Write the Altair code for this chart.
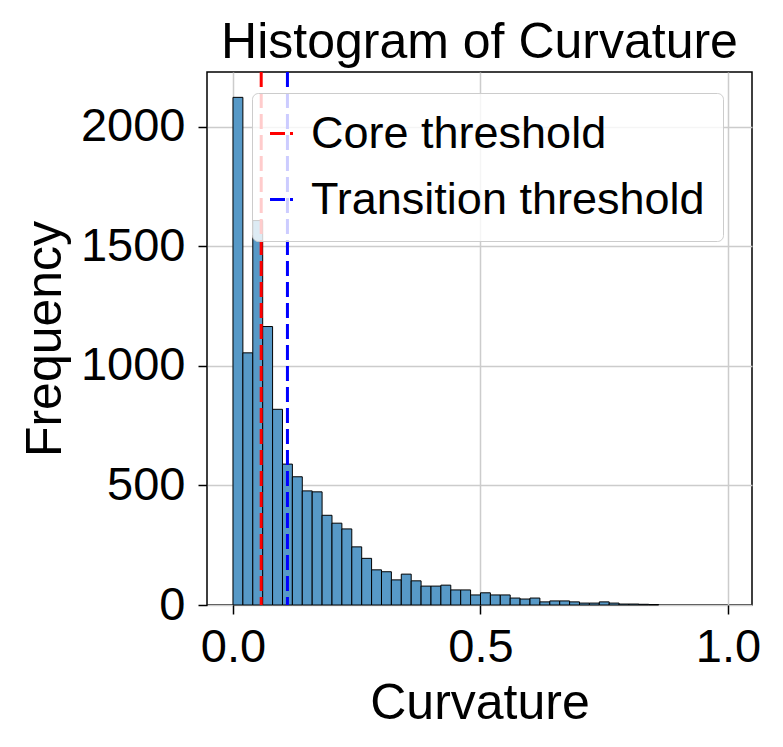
import altair as alt
import pandas as pd

# Histogram counts per bin (bin width 0.02 starting at 0.0)
bin_width = 0.02
counts = [2122, 1054, 1607, 1164, 818, 589, 536, 477, 473, 375,
          342, 318, 243, 195, 147, 139, 105, 129, 101, 79,
          79, 83, 63, 63, 42, 51, 42, 42, 29, 25,
          29, 13, 17, 17, 13, 8, 8, 13, 8, 4,
          4, 3, 2]

threshold_labels = ["Core threshold", "Transition threshold"]
threshold_values = [0.057, 0.110]
threshold_colors = ["#ff0000", "#0000ff"]

x_ticks = [0.0, 0.5, 1.0]
y_ticks = [0, 500, 1000, 1500, 2000]

bins = pd.DataFrame({
    "start": [i * bin_width for i in range(len(counts))],
    "end": [(i + 1) * bin_width for i in range(len(counts))],
    "count": counts,
})
thr = pd.DataFrame({"label": threshold_labels, "value": threshold_values})

FONT = "Liberation Sans"
xscale = alt.Scale(domain=[-0.0525, 1.0485], nice=False, zero=False)
yscale = alt.Scale(domain=[0, 2228], nice=False)

bars = alt.Chart(bins).mark_bar(
    color="#5799c7", stroke="black", strokeWidth=1, opacity=1
).encode(
    x=alt.X("start:Q", scale=xscale,
            axis=alt.Axis(values=x_ticks, format=".1f", title="Curvature")),
    x2="end:Q",
    y=alt.Y("count:Q", scale=yscale,
            axis=alt.Axis(values=y_ticks, format="d", title="Frequency")),
    y2=alt.datum(0),
)

rules = alt.Chart(thr).mark_rule(strokeDash=[15, 6], strokeWidth=3).encode(
    x=alt.X("value:Q", scale=xscale),
    color=alt.Color(
        "label:N",
        scale=alt.Scale(domain=threshold_labels, range=threshold_colors),
        legend=alt.Legend(
            title=None, orient="none", legendX=45, legendY=21,
            symbolType="stroke", symbolSize=529, symbolStrokeWidth=3,
            symbolDash=[15, 5], symbolOffset=-11,
            labelFontSize=45, labelFont=FONT,
            labelColor="black", labelOffset=7,
            padding=18, rowPadding=20,
            fillColor="rgba(255,255,255,0.8)", strokeColor="#cccccc",
            cornerRadius=6, labelLimit=1000,
        ),
    ),
)

chart = alt.layer(bars, rules).properties(
    width=545, height=533,
    padding={"left": 207, "top": 72, "right": 31, "bottom": 142},
    autosize=alt.AutoSizeParams(type="none"),
    title=alt.TitleParams(
        "Histogram of Curvature", fontSize=50, font=FONT, fontWeight="normal",
        anchor="middle", frame="group", baseline="alphabetic", offset=-37,
        color="black",
    ),
).configure_view(
    stroke="black", strokeWidth=1.5
).configure_axis(
    domain=False, grid=True, gridColor="#cccccc", gridWidth=1.5,
    tickColor="black", tickWidth=1.5, tickSize=9,
    labelFont=FONT, labelFontSize=47, labelColor="black",
    titleFont=FONT, titleFontSize=50, titleFontWeight="normal", titleColor="black",
).configure_axisX(
    labelPadding=10, titlePadding=8,
).configure_axisY(
    labelPadding=13, titlePadding=10,
)

chart.save("out.html", embed_options={"renderer": "svg", "actions": False})
